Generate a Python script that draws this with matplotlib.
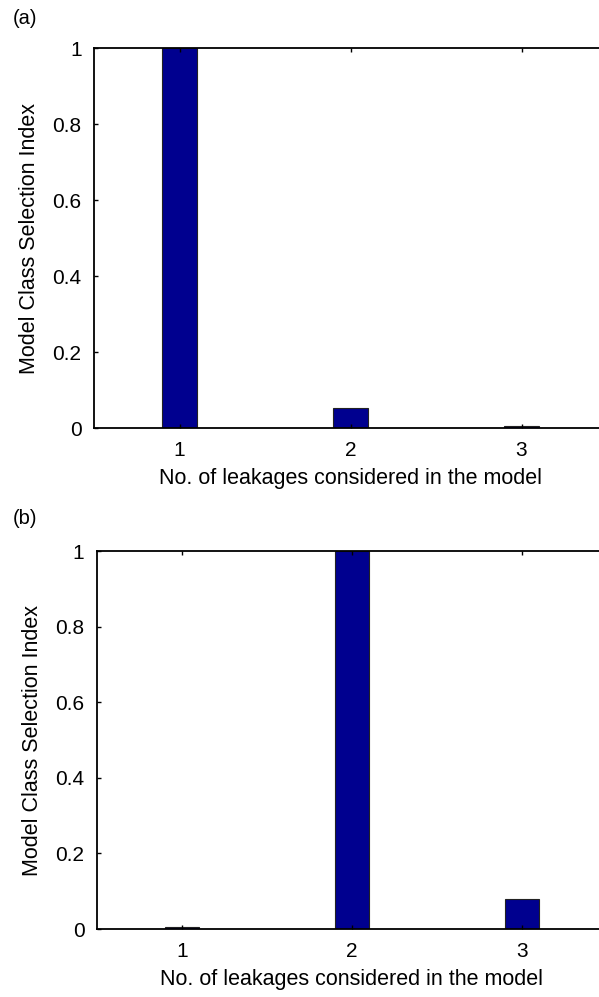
import matplotlib
matplotlib.use("Agg")
import matplotlib.pyplot as plt

plt.rcParams['font.family'] = ['Liberation Sans', 'DejaVu Sans']

categories = [1, 2, 3]
values_a = [1.0, 0.053, 0.004]
values_b = [0.004, 1.0, 0.079]
yticks = [0, 0.2, 0.4, 0.6, 0.8, 1]
yticklabels = ["0", "0.2", "0.4", "0.6", "0.8", "1"]
panel_labels = ["(a)", "(b)"]
xlabel = "No. of leakages considered in the model"
ylabel = "Model Class Selection Index"

bar_color = "#00008F"

fig = plt.figure(figsize=(5.99, 9.97), dpi=100)

H = 997.0
W = 599.0
unit = 171.0
pos_a = [94 / W, 1 - 428 / H, 3 * unit / W, 380 / H]
pos_b = [97 / W, 1 - 929 / H, 3 * 170 / W, 378 / H]

for pos, vals, lab, ly in [(pos_a, values_a, panel_labels[0], 18), (pos_b, values_b, panel_labels[1], 518)]:
    ax = fig.add_axes(pos)
    ax.bar(categories, vals, width=0.2, color=bar_color, edgecolor="#222222", linewidth=0.8)
    ax.set_xlim(0.5, 3.5)
    ax.set_ylim(0, 1)
    ax.set_xticks(categories)
    ax.set_xticklabels([str(c) for c in categories])
    ax.set_yticks(yticks)
    ax.set_yticklabels(yticklabels)
    ax.tick_params(direction="in", length=3, width=1, labelsize=15, pad=9,
                   top=True, right=False)
    for s in ["left", "bottom", "top"]:
        ax.spines[s].set_linewidth(1.3)
    ax.spines["right"].set_visible(False)
    ax.set_xlabel(xlabel, fontsize=15.5, labelpad=6)
    ax.set_ylabel(ylabel, fontsize=15.5, labelpad=9)
    fig.text(13 / W, 1 - ly / H, lab, fontsize=14.5, ha="left", va="center")

fig.savefig("out.png", dpi=100)
